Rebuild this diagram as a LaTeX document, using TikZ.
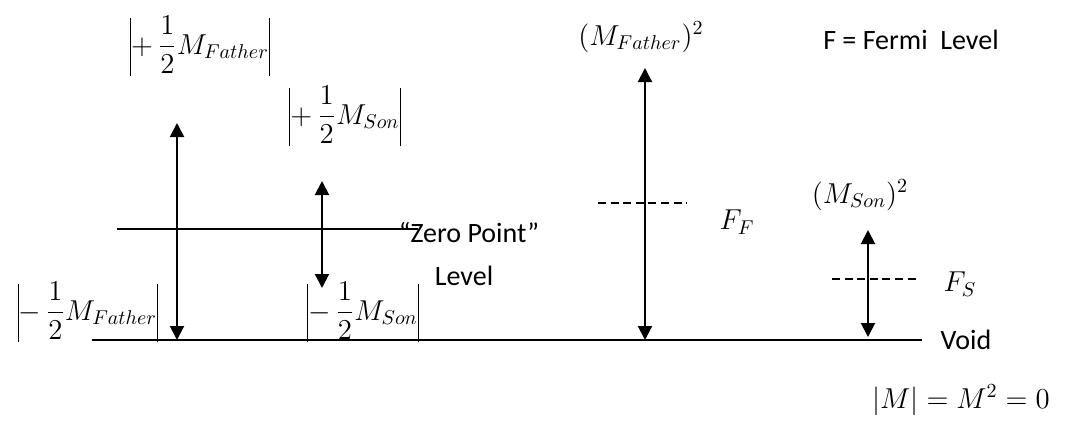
\documentclass[tikz,border=0pt]{standalone}
\usepackage{amsmath}
\usepackage{fontspec}
\setmainfont{Carlito}
\usepackage{tikz}
\usetikzlibrary{arrows.meta,positioning}
\newcommand{\absL}{\mathopen{\vrule width 0.6pt height 18pt depth 11pt}}
\newcommand{\absR}{\mathclose{\vrule width 0.6pt height 18pt depth 11pt}}

\begin{document}
\begin{tikzpicture}[x=0.5pt,y=-0.5pt,
  lvl/.style={line width=0.8pt},
  fermi/.style={line width=0.8pt,dash pattern=on 4pt off 2.3pt},
  arr/.style={{Triangle[width=7pt,length=7pt]}-{Triangle[width=7pt,length=7pt]},line width=1pt},
  txt/.style={font=\fontsize{14}{17}\selectfont,inner sep=0pt}
]
\useasboundingbox (0,0) rectangle (1073,424);

% level lines
\coordinate (voidL) at (92,340);
\coordinate (voidR) at (922,340);
\coordinate (zeroL) at (117,229);
\coordinate (zeroR) at (418,229);
\draw[lvl] (voidL) -- (voidR);
\draw[lvl] (zeroL) -- (zeroR);

% labels
\node[txt] (fatherplus)  at (200,46)  {$\absL+\,\dfrac{1}{2}M_{Father}\absR$};
\node[txt] (sonplus)     at (345,116) {$\absL+\,\dfrac{1}{2}M_{Son}\absR$};
\node[txt] (fatherminus) at (88,312)  {$\absL-\,\dfrac{1}{2}M_{Father}\absR$};
\node[txt] (sonminus)    at (363,312) {$\absL-\,\dfrac{1}{2}M_{Son}\absR$};
\node[txt] (zeropoint)   at (469,233) {“Zero Point”};
\node[txt] (zerolevel)   at (464,276) {Level};
\node[txt] (fathersq)    at (641,37)  {$(M_{Father})^2$};
\node[txt] (legend)      at (911,40)  {F = Fermi\ \ Level};
\node[txt] (fermiF)      at (737,222) {$F_F$};
\node[txt] (sonsq)       at (860,195) {$(M_{Son})^2$};
\node[txt] (fermiS)      at (960,284) {$F_S$};
\node[txt] (void)        at (966,340) {Void};
\node[txt] (zero)        at (961,400) {$|M| = M^2 = 0$};

% arrow ends
\coordinate (fatherTop) at (177,123);
\coordinate (fatherBot) at (177,340);
\coordinate (sonTop)    at (322,181);
\coordinate (sonBot)    at (322,288);
\coordinate (fsqTop)    at (645,68);
\coordinate (fsqBot)    at (645,340);
\coordinate (ssqTop)    at (868,230);
\coordinate (ssqBot)    at (868,337);

\draw[arr] (fatherTop) -- (fatherBot);
\draw[arr] (sonTop) -- (sonBot);
\draw[arr] (fsqTop) -- (fsqBot);
\draw[arr] (ssqTop) -- (ssqBot);

% Fermi levels
\coordinate (ffL) at (598,203);
\coordinate (ffR) at (687,203);
\coordinate (fsL) at (832,279);
\coordinate (fsR) at (920,279);
\draw[fermi] (ffL) -- (ffR);
\draw[fermi] (fsL) -- (fsR);
\end{tikzpicture}
\end{document}
